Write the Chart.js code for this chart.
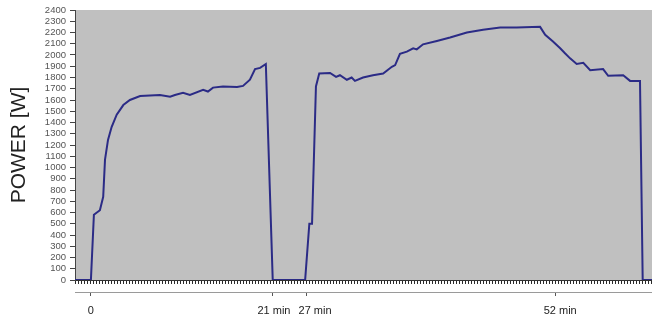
<!DOCTYPE html>
<html>
<head>
<meta charset="utf-8">
<script src="https://cdn.jsdelivr.net/npm/chart.js@4/dist/chart.umd.min.js"></script>
<style>
  html, body { margin: 0; padding: 0; background: #fff; }
  #grafico { display: block; }
</style>
</head>
<body>
<canvas id="grafico" width="652" height="320"></canvas>
<script>
// muestras (cada muestra = 1 paso del registro) y potencia medida en W
const muestras = [0, 5.3, 6.3, 8.3, 9.4, 10, 11, 12.2, 13.9, 16.1, 18.3, 21.7, 28.3, 31.7, 33.3, 36, 38.3,
  42.7, 44.3, 46, 49.3, 54, 56, 58.3, 60, 61.7, 63.6, 65.9, 76.7, 78.1, 79, 80.3, 81.4, 85, 87, 88.3,
  90.6, 92.2, 93.3, 96, 99.3, 102.7, 105.6, 106.7, 108.3, 110.6, 112.7, 113.9, 116, 120.6, 125, 130.6,
  136, 141.7, 147.2, 155, 156.7, 159.3, 161.7, 163.3, 165, 167.2, 169.4, 171.7, 176, 177.7, 182.7,
  185, 188.3, 189.2, 192.3]
const potencia = [0, 0, 580, 620, 740, 1070, 1245, 1360, 1470, 1555, 1600, 1635, 1645, 1630, 1645, 1665, 1645,
  1690, 1675, 1710, 1720, 1715, 1725, 1780, 1875, 1885, 1920, 0, 0, 500, 500, 1720, 1835, 1840, 1805, 1820,
  1780, 1800, 1770, 1800, 1820, 1835, 1895, 1910, 2010, 2030, 2060, 2050, 2095, 2125, 2155, 2200,
  2225, 2245, 2245, 2250, 2180, 2120, 2060, 2015, 1970, 1920, 1930, 1865, 1875, 1815, 1820,
  1770, 1770, 0, 0]

// marcas de tiempo del eje inferior (posicion de la marca y del texto)
const marcasPos = [5.3, 65.7, 77, 160]
const textosPos = [5.3, 66.3, 80, 161.7]
const marcasTexto = ['0', '21 min', '27 min', '52 min']

const yMax = 2400
const yPaso = 100
const xMax = muestras[muestras.length - 1]

const fondoGris = {
  id: 'fondoGris',
  beforeDraw(chart) {
    const { ctx, chartArea } = chart
    ctx.save()
    ctx.fillStyle = '#c0c0c0'
    ctx.fillRect(chartArea.left, chartArea.top, chartArea.right - chartArea.left, chartArea.bottom - chartArea.top)
    ctx.restore()
  }
}

const fuente = 'Liberation Sans, Arial, sans-serif'

const config = {
  type: 'line',
  data: {
    datasets: [{
      data: muestras.map((m, i) => ({ x: m, y: potencia[i] })),
      borderColor: '#2b2b86',
      borderWidth: 2,
      pointRadius: 0,
      tension: 0,
      fill: false
    }]
  },
  options: {
    responsive: false,
    animation: false,
    devicePixelRatio: 1,
    layout: { padding: { left: 3, right: 0, top: 10, bottom: 0 } },
    plugins: { legend: { display: false }, tooltip: { enabled: false } },
    scales: {
      x: {
        type: 'linear',
        position: 'bottom',
        min: 0,
        max: xMax,
        afterBuildTicks: (s) => {
          const t = []
          for (let v = 0; v <= xMax; v++) t.push({ value: v })
          s.ticks = t
        },
        afterFit: (s) => { s.height = 12 },
        border: { display: true, color: '#333', width: 1 },
        grid: { drawOnChartArea: false, tickLength: 4, color: '#2a2a2a', lineWidth: 1 },
        ticks: { autoSkip: false, callback: () => ' ', font: { size: 1 }, padding: 0 }
      },
      x2: {
        type: 'linear',
        position: 'bottom',
        min: 0,
        max: xMax,
        afterBuildTicks: (s) => { s.ticks = marcasPos.map(v => ({ value: v })) },
        afterFit: (s) => { s.height = 5 },
        border: { display: true, color: '#9a9a9a', width: 1 },
        grid: { drawOnChartArea: false, tickLength: 4, color: '#555' },
        ticks: { autoSkip: false, callback: () => ' ', font: { size: 1 }, padding: 0 }
      },
      x3: {
        type: 'linear',
        position: 'bottom',
        min: 0,
        max: xMax,
        afterBuildTicks: (s) => { s.ticks = textosPos.map(v => ({ value: v })) },
        afterFit: (s) => { s.height = 23 },
        border: { display: false },
        grid: { display: false, drawTicks: false },
        ticks: {
          autoSkip: false,
          maxRotation: 0,
          padding: 7,
          color: '#222',
          font: { family: fuente, size: 11 },
          callback: (v, i) => marcasTexto[i]
        }
      },
      y: {
        min: 0,
        max: yMax,
        afterFit: (s) => { s.width = 72 },
        border: { display: true, color: '#444', width: 1 },
        grid: { drawOnChartArea: false, tickLength: 5, color: '#444' },
        ticks: {
          stepSize: yPaso,
          autoSkip: false,
          padding: 4,
          color: '#555',
          font: { family: fuente, size: 9.5 },
          callback: (v) => String(v)
        },
        title: {
          display: true,
          text: 'POWER [W]',
          color: '#222',
          font: { family: fuente, size: 21 },
          padding: { top: 4, bottom: 4 }
        }
      }
    }
  },
  plugins: [fondoGris]
}

new Chart(document.getElementById('grafico'), config)
</script>
</body>
</html>
